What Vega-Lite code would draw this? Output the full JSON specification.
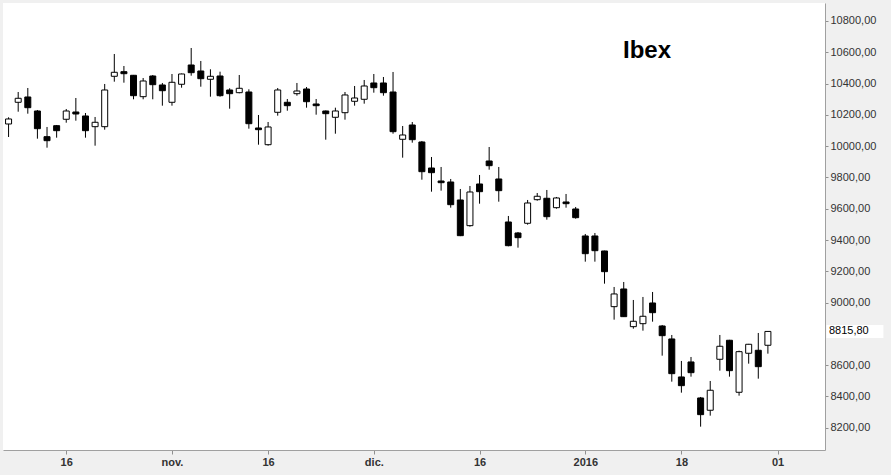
{
  "$schema": "https://vega.github.io/schema/vega-lite/v6.json",
  "autosize": "none",
  "width": 822,
  "height": 447,
  "padding": {"left": 3, "top": 3, "right": 66, "bottom": 25},
  "background": "#f0f0f0",
  "config": {
    "view": {"fill": "white", "stroke": null},
    "locale": {"number": {"decimal": ",", "thousands": ".", "grouping": [3], "currency": ["", " €"]}}
  },
  "title": {
    "text": "Ibex",
    "frame": "group",
    "anchor": "start",
    "orient": "top",
    "offset": 0,
    "dx": 620,
    "dy": 79,
    "baseline": "alphabetic",
    "font": "Liberation Sans",
    "fontSize": 24,
    "fontWeight": "bold",
    "color": "#000000"
  },
  "data": {
    "values": [
      {"i": -6, "d": "2015-10-08", "o": 10141.7, "h": 10184.5, "l": 10058.6, "c": 10173.7},
      {"i": -5, "d": "2015-10-09", "o": 10280.4, "h": 10346.2, "l": 10220.3, "c": 10306.0},
      {"i": -4, "d": "2015-10-12", "o": 10314.3, "h": 10371.8, "l": 10207.6, "c": 10245.9},
      {"i": -3, "d": "2015-10-13", "o": 10224.8, "h": 10231.2, "l": 10047.8, "c": 10111.7},
      {"i": -2, "d": "2015-10-14", "o": 10060.6, "h": 10122.6, "l": 9990.3, "c": 10035.0},
      {"i": -1, "d": "2015-10-15", "o": 10130.9, "h": 10135.3, "l": 10054.2, "c": 10098.9},
      {"i": 0, "d": "2015-10-16", "o": 10171.8, "h": 10237.6, "l": 10150.0, "c": 10224.8},
      {"i": 1, "d": "2015-10-19", "o": 10218.4, "h": 10307.9, "l": 10162.8, "c": 10205.6},
      {"i": 2, "d": "2015-10-20", "o": 10192.9, "h": 10212.0, "l": 10054.2, "c": 10098.9},
      {"i": 3, "d": "2015-10-21", "o": 10124.5, "h": 10186.5, "l": 10003.1, "c": 10152.6},
      {"i": 4, "d": "2015-10-22", "o": 10124.5, "h": 10397.4, "l": 10105.3, "c": 10359.0},
      {"i": 5, "d": "2015-10-23", "o": 10446.6, "h": 10589.1, "l": 10412.1, "c": 10472.1},
      {"i": 6, "d": "2015-10-26", "o": 10476.0, "h": 10512.4, "l": 10405.7, "c": 10463.2},
      {"i": 7, "d": "2015-10-27", "o": 10453.0, "h": 10455.0, "l": 10299.6, "c": 10322.6},
      {"i": 8, "d": "2015-10-28", "o": 10316.2, "h": 10435.7, "l": 10299.6, "c": 10416.5},
      {"i": 9, "d": "2015-10-29", "o": 10448.5, "h": 10454.9, "l": 10299.6, "c": 10392.9},
      {"i": 10, "d": "2015-10-30", "o": 10391.0, "h": 10403.8, "l": 10258.7, "c": 10354.5},
      {"i": 11, "d": "2015-11-02", "o": 10280.4, "h": 10461.3, "l": 10258.7, "c": 10408.2},
      {"i": 12, "d": "2015-11-03", "o": 10395.5, "h": 10464.0, "l": 10373.7, "c": 10461.3},
      {"i": 13, "d": "2015-11-04", "o": 10518.8, "h": 10627.4, "l": 10450.4, "c": 10469.6},
      {"i": 14, "d": "2015-11-05", "o": 10480.4, "h": 10544.4, "l": 10380.1, "c": 10431.2},
      {"i": 15, "d": "2015-11-06", "o": 10427.4, "h": 10491.3, "l": 10316.2, "c": 10446.6},
      {"i": 16, "d": "2015-11-09", "o": 10448.5, "h": 10476.0, "l": 10316.2, "c": 10322.6},
      {"i": 17, "d": "2015-11-10", "o": 10359.0, "h": 10369.9, "l": 10239.5, "c": 10335.4},
      {"i": 18, "d": "2015-11-11", "o": 10341.8, "h": 10454.9, "l": 10337.9, "c": 10369.9},
      {"i": 19, "d": "2015-11-12", "o": 10346.2, "h": 10363.5, "l": 10111.7, "c": 10143.6},
      {"i": 20, "d": "2015-11-13", "o": 10116.2, "h": 10199.2, "l": 10009.4, "c": 10105.3},
      {"i": 21, "d": "2015-11-16", "o": 10009.4, "h": 10154.5, "l": 10003.1, "c": 10122.6},
      {"i": 22, "d": "2015-11-17", "o": 10216.5, "h": 10371.8, "l": 10194.8, "c": 10359.0},
      {"i": 23, "d": "2015-11-18", "o": 10280.4, "h": 10301.5, "l": 10226.7, "c": 10258.7},
      {"i": 24, "d": "2015-11-19", "o": 10335.4, "h": 10403.8, "l": 10322.6, "c": 10352.6},
      {"i": 25, "d": "2015-11-20", "o": 10365.4, "h": 10378.2, "l": 10245.9, "c": 10284.2},
      {"i": 26, "d": "2015-11-23", "o": 10269.5, "h": 10301.5, "l": 10201.2, "c": 10258.7},
      {"i": 27, "d": "2015-11-24", "o": 10224.8, "h": 10228.0, "l": 10041.4, "c": 10207.6},
      {"i": 28, "d": "2015-11-25", "o": 10184.5, "h": 10245.9, "l": 10079.7, "c": 10224.8},
      {"i": 29, "d": "2015-11-26", "o": 10213.9, "h": 10346.2, "l": 10169.2, "c": 10327.1},
      {"i": 30, "d": "2015-11-27", "o": 10286.8, "h": 10384.6, "l": 10258.7, "c": 10307.9},
      {"i": 31, "d": "2015-11-30", "o": 10299.6, "h": 10422.9, "l": 10271.5, "c": 10384.6},
      {"i": 32, "d": "2015-12-01", "o": 10403.8, "h": 10461.3, "l": 10341.8, "c": 10373.7},
      {"i": 33, "d": "2015-12-02", "o": 10403.8, "h": 10442.1, "l": 10322.6, "c": 10341.8},
      {"i": 34, "d": "2015-12-03", "o": 10346.2, "h": 10474.1, "l": 10079.7, "c": 10092.5},
      {"i": 35, "d": "2015-12-04", "o": 10043.9, "h": 10128.9, "l": 9926.4, "c": 10071.4},
      {"i": 36, "d": "2015-12-07", "o": 10135.3, "h": 10154.5, "l": 10022.2, "c": 10041.4},
      {"i": 37, "d": "2015-12-08", "o": 10026.7, "h": 10033.1, "l": 9785.7, "c": 9836.9},
      {"i": 38, "d": "2015-12-09", "o": 9860.5, "h": 9930.8, "l": 9709.1, "c": 9830.5},
      {"i": 39, "d": "2015-12-10", "o": 9777.4, "h": 9866.9, "l": 9715.5, "c": 9766.6},
      {"i": 40, "d": "2015-12-11", "o": 9771.0, "h": 9790.2, "l": 9606.8, "c": 9626.0},
      {"i": 41, "d": "2015-12-14", "o": 9656.0, "h": 9726.3, "l": 9425.0, "c": 9427.9},
      {"i": 42, "d": "2015-12-15", "o": 9491.8, "h": 9745.5, "l": 9485.4, "c": 9707.1},
      {"i": 43, "d": "2015-12-16", "o": 9758.3, "h": 9815.8, "l": 9632.4, "c": 9709.1},
      {"i": 44, "d": "2015-12-17", "o": 9905.3, "h": 9994.7, "l": 9849.7, "c": 9875.2},
      {"i": 45, "d": "2015-12-18", "o": 9790.2, "h": 9866.9, "l": 9645.1, "c": 9715.5},
      {"i": 46, "d": "2015-12-21", "o": 9515.4, "h": 9553.8, "l": 9360.0, "c": 9363.9},
      {"i": 47, "d": "2015-12-22", "o": 9445.1, "h": 9451.5, "l": 9351.2, "c": 9415.1},
      {"i": 48, "d": "2015-12-23", "o": 9507.1, "h": 9656.0, "l": 9498.2, "c": 9636.8},
      {"i": 49, "d": "2015-12-24", "o": 9657.9, "h": 9700.7, "l": 9651.5, "c": 9679.7},
      {"i": 50, "d": "2015-12-28", "o": 9666.9, "h": 9719.9, "l": 9530.1, "c": 9549.3},
      {"i": 51, "d": "2015-12-29", "o": 9606.8, "h": 9675.2, "l": 9600.4, "c": 9668.8},
      {"i": 52, "d": "2015-12-30", "o": 9643.2, "h": 9694.4, "l": 9606.8, "c": 9632.4},
      {"i": 53, "d": "2015-12-31", "o": 9598.5, "h": 9611.3, "l": 9536.5, "c": 9542.9},
      {"i": 54, "d": "2016-01-04", "o": 9425.9, "h": 9438.7, "l": 9261.7, "c": 9312.8},
      {"i": 55, "d": "2016-01-05", "o": 9425.9, "h": 9445.1, "l": 9261.7, "c": 9332.0},
      {"i": 56, "d": "2016-01-06", "o": 9330.1, "h": 9332.0, "l": 9121.1, "c": 9197.8},
      {"i": 57, "d": "2016-01-07", "o": 8974.1, "h": 9100.0, "l": 8891.0, "c": 9055.3},
      {"i": 58, "d": "2016-01-08", "o": 9087.2, "h": 9131.9, "l": 8908.0, "c": 8910.2},
      {"i": 59, "d": "2016-01-11", "o": 8846.3, "h": 9016.9, "l": 8833.5, "c": 8880.8},
      {"i": 60, "d": "2016-01-12", "o": 8865.4, "h": 9036.1, "l": 8820.7, "c": 8912.7},
      {"i": 61, "d": "2016-01-13", "o": 8997.7, "h": 9068.0, "l": 8878.2, "c": 8935.7},
      {"i": 62, "d": "2016-01-14", "o": 8850.7, "h": 8857.1, "l": 8660.9, "c": 8788.8},
      {"i": 63, "d": "2016-01-15", "o": 8767.7, "h": 8793.2, "l": 8494.8, "c": 8545.9},
      {"i": 64, "d": "2016-01-18", "o": 8524.8, "h": 8627.1, "l": 8424.5, "c": 8469.2},
      {"i": 65, "d": "2016-01-19", "o": 8620.7, "h": 8652.6, "l": 8526.7, "c": 8552.3},
      {"i": 66, "d": "2016-01-20", "o": 8390.6, "h": 8397.0, "l": 8207.2, "c": 8283.9},
      {"i": 67, "d": "2016-01-21", "o": 8312.0, "h": 8499.2, "l": 8277.5, "c": 8439.8},
      {"i": 68, "d": "2016-01-22", "o": 8637.9, "h": 8793.2, "l": 8565.1, "c": 8721.0},
      {"i": 69, "d": "2016-01-25", "o": 8759.4, "h": 8762.0, "l": 8526.7, "c": 8565.1},
      {"i": 70, "d": "2016-01-26", "o": 8427.0, "h": 8692.9, "l": 8405.3, "c": 8686.5},
      {"i": 71, "d": "2016-01-27", "o": 8676.3, "h": 8736.0, "l": 8609.8, "c": 8733.8},
      {"i": 72, "d": "2016-01-28", "o": 8695.4, "h": 8806.0, "l": 8513.9, "c": 8590.6},
      {"i": 73, "d": "2016-01-29", "o": 8727.4, "h": 8818.0, "l": 8673.7, "c": 8815.8}
    ]
  },
  "encoding": {
    "x": {
      "field": "i",
      "type": "quantitative",
      "scale": {"domain": [-6.06, 78.42], "nice": false, "zero": false},
      "axis": {
        "title": null,
        "orient": "bottom",
        "values": [0, 11, 21, 32, 43, 54, 64, 74],
        "labelExpr": "datum.value==11?'nov.':datum.value==32?'dic.':datum.value==54?'2016':datum.value==64?'18':datum.value==74?'01':'16'",
        "grid": false,
        "domainColor": "#a0a0a0",
        "domainWidth": 1,
        "tickColor": "#909090",
        "tickSize": 4,
        "labelPadding": 2,
        "labelFont": "Liberation Sans",
        "labelFontSize": 11,
        "labelFontWeight": "bold",
        "labelColor": "#333333",
        "labelFlush": false,
        "labelOverlap": false
      }
    },
    "y": {
      "type": "quantitative",
      "scale": {"domain": [8058, 10915], "nice": false, "zero": false},
      "axis": {
        "title": null,
        "orient": "right",
        "values": [8200, 8400, 8600, 9000, 9200, 9400, 9600, 9800, 10000, 10200, 10400, 10600, 10800],
        "format": ".2f",
        "grid": false,
        "domainColor": "#a0a0a0",
        "domainWidth": 1,
        "tickColor": "#909090",
        "tickSize": 3,
        "labelPadding": 2,
        "labelFont": "Liberation Sans",
        "labelFontSize": 11,
        "labelColor": "#333333",
        "labelFlush": false,
        "labelOverlap": false
      }
    }
  },
  "layer": [
    {
      "mark": {"type": "rule", "color": "black", "strokeWidth": 1, "clip": true},
      "encoding": {"y": {"field": "l"}, "y2": {"field": "h"}}
    },
    {
      "mark": {"type": "bar", "width": 6, "stroke": "black", "strokeWidth": 1, "clip": true},
      "encoding": {
        "y": {"field": "o"},
        "y2": {"field": "c"},
        "fill": {"condition": {"test": "datum.c > datum.o", "value": "white"}, "value": "black"}
      }
    },
    {
      "transform": [{"filter": "datum.i == 73"}],
      "mark": {"type": "tick", "orient": "horizontal", "size": 57, "thickness": 13, "color": "white", "opacity": 1, "xOffset": 87},
      "encoding": {"y": {"field": "c"}}
    },
    {
      "transform": [{"filter": "datum.i == 73"}],
      "mark": {"type": "text", "align": "left", "baseline": "middle", "dx": 61, "font": "Liberation Sans", "fontSize": 11, "color": "black"},
      "encoding": {"y": {"field": "c"}, "text": {"field": "c", "type": "quantitative", "format": ".2f"}}
    }
  ]
}
